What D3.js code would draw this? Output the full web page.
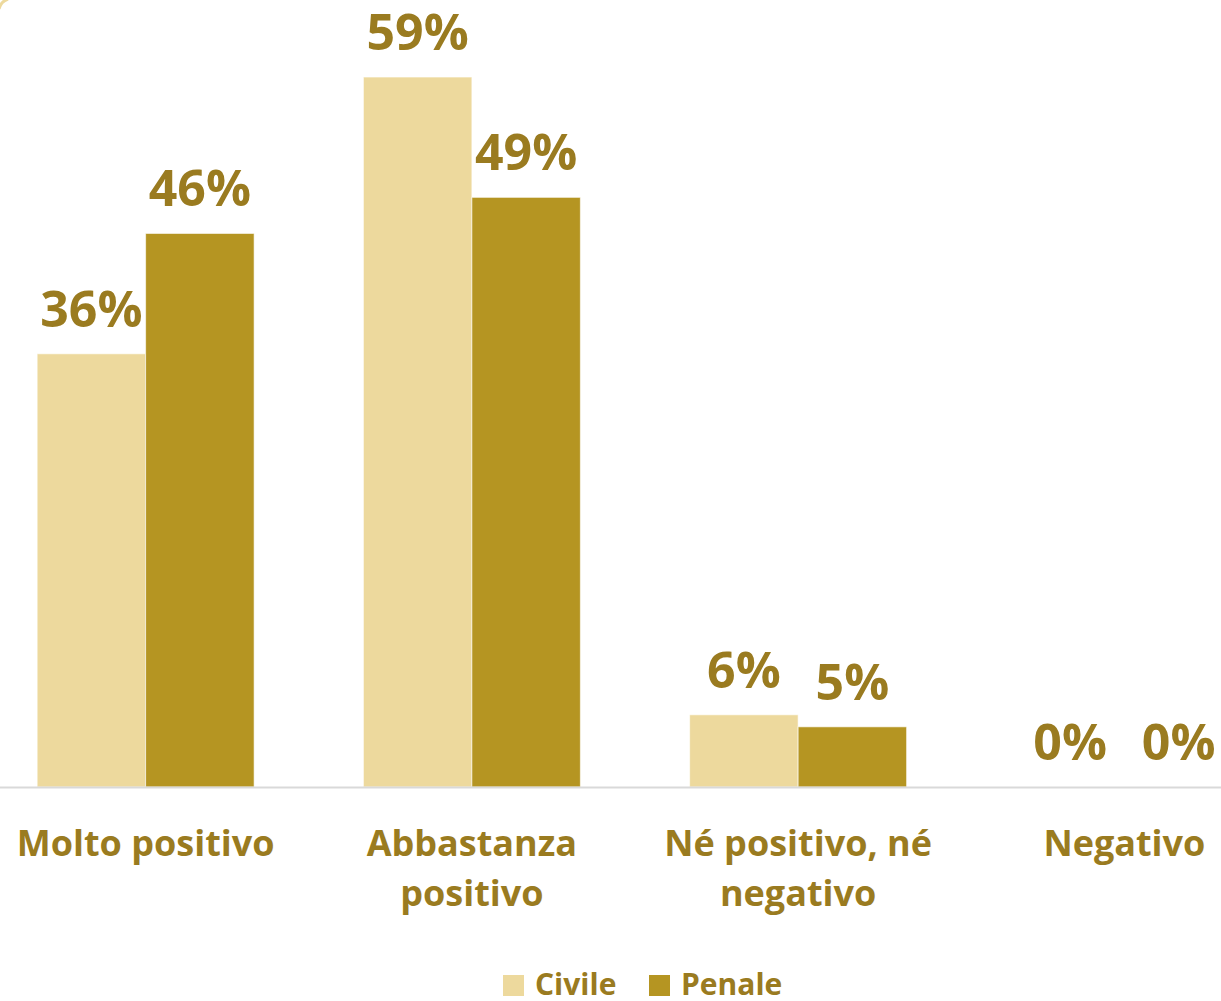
<!DOCTYPE html>
<html>
<head>
<meta charset="utf-8">
<script src="https://cdn.jsdelivr.net/npm/d3@7"></script>
<style>
  body { margin: 0; background: #fff; }
  text { font-family: "Open Sans", sans-serif; font-weight: 700; fill: #9A7B20; }
</style>
</head>
<body>
<script>
const w = 1221;
const h = 1001;

const categories = [['Molto positivo'], ['Abbastanza', 'positivo'], ['Né positivo, né', 'negativo'], ['Negativo']];
const series = ['Civile', 'Penale'];
const civile = [36, 59, 6, 0];
const penale = [46, 49, 5, 0];
const colors = ['#EDD99D', '#B59522'];

const data = categories.map((c, i) => ({ cat: c.join(' '), lines: c, values: [civile[i], penale[i]] }));

const svg = d3.select('body').append('svg').attr('width', w).attr('height', h);

// corner of the chart frame, top-left (mostly outside the picture)
svg.append('path')
  .attr('d', 'M -1 9 A 14 14 0 0 1 8 -1')
  .attr('fill', 'none').attr('stroke', '#EDD99D').attr('stroke-width', 3);

const x = d3.scaleBand().domain(data.map(d => d.cat)).range([-17.5, 1287.5])
  .paddingInner(0.335).paddingOuter(0.1675);
const xs = d3.scaleBand().domain(series).range([0, x.bandwidth()]);
const y = d3.scaleLinear().domain([0, 60]).range([787, 65]);

const g = svg.selectAll('.grp').data(data).enter().append('g')
  .attr('transform', d => 'translate(' + x(d.cat) + ',0)');

g.selectAll('rect').data(d => d.values.map((v, i) => ({ s: series[i], v: v, i: i }))).enter()
  .append('rect')
  .attr('x', d => xs(d.s))
  .attr('y', d => y(d.v))
  .attr('width', xs.bandwidth())
  .attr('height', d => y(0) - y(d.v))
  .attr('fill', d => colors[d.i])
  .attr('stroke', 'rgba(255,255,255,0.6)')
  .attr('stroke-width', 1);

g.selectAll('.val').data(d => d.values.map((v, i) => ({ s: series[i], v: v }))).enter()
  .append('text')
  .attr('class', 'val')
  .attr('x', d => xs(d.s) + xs.bandwidth() / 2)
  .attr('y', d => y(d.v) - 27)
  .attr('text-anchor', 'middle')
  .style('font-size', '50px')
  .text(d => d.v + '%');

// axis line
svg.append('line').attr('x1', 0).attr('x2', w).attr('y1', y(0) + 0.5).attr('y2', y(0) + 0.5)
  .attr('stroke', '#D9D9D9').attr('stroke-width', 2);

// category labels
const lab = svg.selectAll('.cat').data(data).enter().append('text')
  .attr('class', 'cat')
  .attr('text-anchor', 'middle')
  .style('font-size', '36px')
  .attr('transform', d => 'translate(' + (x(d.cat) + x.bandwidth() / 2) + ',856)');
lab.selectAll('tspan').data(d => d.lines).enter().append('tspan')
  .attr('x', 0).attr('y', (d, i) => i * 50).text(d => d);

// legend
const legX = [503, 649];
const leg = svg.selectAll('.leg').data(series).enter().append('g')
  .attr('transform', (d, i) => 'translate(' + legX[i] + ',975)');
leg.append('rect').attr('width', 21).attr('height', 21).attr('fill', (d, i) => colors[i]);
leg.append('text').attr('x', 32).attr('y', 20).style('font-size', '30px').text(d => d);
</script>
</body>
</html>
